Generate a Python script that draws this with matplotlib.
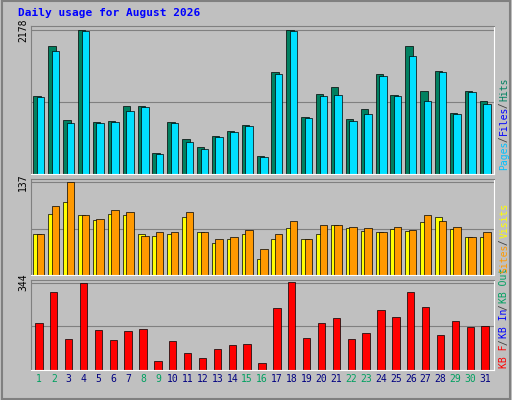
import matplotlib
matplotlib.use("Agg")
import matplotlib.pyplot as plt
import numpy as np

days = list(range(1, 32))
weekend = {1, 2, 8, 9, 15, 16, 22, 23, 29, 30}

hits = [1185, 1940, 820, 2178, 790, 805, 1030, 1030, 325, 795, 525, 405, 570, 655, 745, 270,
        1550, 2178, 865, 1210, 1315, 835, 990, 1520, 1200, 1940, 1255, 1565, 925, 1260, 1110]
files = [1165, 1865, 775, 2160, 775, 790, 955, 1015, 310, 780, 480, 375, 555, 640, 730, 255,
         1520, 2160, 850, 1180, 1195, 805, 915, 1490, 1185, 1790, 1105, 1550, 910, 1245, 1065]
visits = [60, 90, 108, 89, 81, 90, 89, 60, 58, 60, 86, 63, 48, 53, 60, 24,
          53, 69, 53, 60, 74, 69, 65, 63, 68, 65, 78, 86, 68, 56, 56]
sites = [61, 101, 137, 89, 83, 96, 93, 58, 63, 63, 93, 63, 53, 56, 66, 38,
         60, 80, 53, 74, 74, 71, 69, 63, 71, 66, 89, 80, 71, 56, 63]
kb = [184, 308, 121, 344, 158, 117, 154, 162, 36, 113, 68, 49, 81, 97, 101, 28,
      243, 348, 125, 186, 206, 121, 146, 235, 210, 308, 247, 138, 194, 170, 174]

BG = "#C0C0C0"
fig = plt.figure(figsize=(5.12, 4.0), dpi=100)
fig.patch.set_facecolor(BG)
fig.add_artist(plt.Rectangle((0.003, 0.003), 0.994, 0.994, transform=fig.transFigure,
                             fill=False, edgecolor="#808080", linewidth=1.5))
fig.text(0.035, 0.968, "Daily usage for August 2026", family="DejaVu Sans Mono",
         fontweight="bold", fontsize=8, color="#0000FF", va="center")

x = np.arange(1, 32)
left, width = 0.06, 0.905
panels = [(0.565, 0.37), (0.312, 0.24), (0.075, 0.225)]


def setup(ax, top):
    ax.set_facecolor(BG)
    ax.set_xlim(0.45, 31.6)
    ax.set_ylim(0, top * 1.03)
    ax.set_xticks([])
    ax.set_yticks([top])
    ax.set_yticklabels([str(top)], rotation=90, va="center", fontsize=7,
                       family="DejaVu Sans Mono")
    ax.tick_params(axis="y", length=0, pad=2)
    for g in (top / 2, top):
        ax.axhline(g, color="#808080", linewidth=0.8, zorder=0)
    for s in ax.spines.values():
        s.set_color("#808080")
    for s in ("bottom", "right"):
        ax.spines[s].set_color("white")


ax1 = fig.add_axes([left, panels[0][0], width, panels[0][1]])
setup(ax1, 2178)
ax1.bar(x - 0.12, hits, 0.5, color="#008060", edgecolor="black", linewidth=0.5)
ax1.bar(x + 0.12, files, 0.5, color="#00E0FF", edgecolor="black", linewidth=0.5)

ax2 = fig.add_axes([left, panels[1][0], width, panels[1][1]])
setup(ax2, 137)
ax2.bar(x - 0.12, visits, 0.5, color="#FFFF00", edgecolor="black", linewidth=0.5)
ax2.bar(x + 0.12, sites, 0.5, color="#FF9900", edgecolor="black", linewidth=0.5)

ax3 = fig.add_axes([left, panels[2][0], width, panels[2][1]])
setup(ax3, 344)
ax3.bar(x, kb, 0.5, color="#FF0000", edgecolor="black", linewidth=0.5)
ax3.set_xticks(x)
ax3.set_xticklabels([str(d) for d in days], fontsize=7, family="DejaVu Sans Mono")
for t, d in zip(ax3.get_xticklabels(), days):
    t.set_color("#00A060" if d in weekend else "#000080")
ax3.tick_params(axis="x", length=0, pad=3)

CH = 0.0108  # height of one monospace char along the rotated text, in figure units


def right_label(y, parts):
    # vertical multi-coloured label on the right edge, read bottom to top
    for txt, col in parts:
        fig.text(0.985, y, txt, rotation=90, color=col, fontsize=7,
                 family="DejaVu Sans Mono", ha="center", va="bottom")
        y += len(txt) * CH


right_label(0.575, [("Pages", "#00C0FF"), (" / ", "#404040"), ("Files", "#0000FF"),
                    (" / ", "#404040"), ("Hits", "#008060")])
right_label(0.08, [("KB F", "#FF0000"), (" / ", "#404040"), ("KB In", "#0000FF"),
                   (" / ", "#404040"), ("KB Out", "#00A060"), (" ", "#404040"),
                   ("Sites", "#FF9900"), (" / ", "#404040"), ("Visits", "#FFFF00")])

fig.savefig("out.png", dpi=100, facecolor=BG)
